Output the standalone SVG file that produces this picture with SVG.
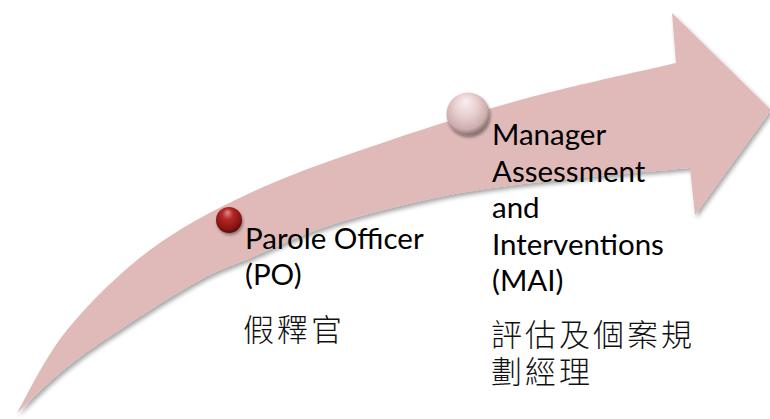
<svg xmlns="http://www.w3.org/2000/svg" width="770" height="419" viewBox="0 0 770 419">
<style>
.lat{font-family:Lato,"Liberation Sans","Noto Sans CJK TC",sans-serif;font-size:29.5px;fill:#000}
.cjk{font-family:"Noto Sans CJK TC","Noto Sans CJK SC",sans-serif;font-size:31px;font-weight:300;fill:#111;letter-spacing:3px}
</style>
<defs>
<filter id="sh" x="-10%" y="-10%" width="130%" height="130%">
<feDropShadow dx="2" dy="3" stdDeviation="2" flood-color="#000" flood-opacity="0.35"/>
</filter>
<filter id="bsh" x="-40%" y="-40%" width="180%" height="180%">
<feDropShadow dx="1" dy="2" stdDeviation="1.5" flood-color="#000" flood-opacity="0.4"/>
</filter>
<radialGradient id="red" cx="0.45" cy="0.4" r="0.6" fx="0.45" fy="0.2">
<stop offset="0" stop-color="#e58a86"/>
<stop offset="0.35" stop-color="#b32a26"/>
<stop offset="0.8" stop-color="#8a1414"/>
<stop offset="1" stop-color="#5e0a0a"/>
</radialGradient>
<radialGradient id="pale" cx="0.45" cy="0.4" r="0.6" fx="0.45" fy="0.2">
<stop offset="0" stop-color="#fbefef"/>
<stop offset="0.45" stop-color="#e8cfcf"/>
<stop offset="0.82" stop-color="#cdadad"/>
<stop offset="1" stop-color="#866c6c"/>
</radialGradient>
</defs>
<g id="connectors">
<path filter="url(#sh)" fill="#dfbab9" d="M17,413 C25.3,399.2 44.8,357.2 67,330 C89.2,302.8 119.5,272.8 150,250 C180.5,227.2 213.3,210.2 250,193 C286.7,175.8 325,162.5 370,147 C415,131.5 469,114 520,100 C571,86 650,69.2 676,63 L672,13 L771,110 L695,215 L690,168 C670,169.8 608.3,174.8 570,179 C531.7,183.2 498.3,185.8 460,193 C421.7,200.2 375,211.2 340,222 C305,232.8 273.3,248.3 250,258 C226.7,267.7 220,269.2 200,280 C180,290.8 152.2,308.5 130,323 C107.8,337.5 85.8,352 67,367 C48.2,382 25.3,405.3 17,413 Z"/>
</g>
<g id="po">
<circle cx="229" cy="220" r="13" fill="url(#red)" filter="url(#bsh)"/>
<text class="lat" x="245" y="249">Parole Officer</text>
<text class="lat" x="245" y="285">(PO)</text>
<text class="cjk" x="243" y="341">假釋官</text>
</g>
<g id="mai">
<circle cx="468" cy="114" r="21.5" fill="url(#pale)" filter="url(#bsh)"/>
<text class="lat" x="492" y="145">Manager</text>
<text class="lat" x="492" y="181.6">Assessment</text>
<text class="lat" x="492" y="218.2">and</text>
<text class="lat" x="492" y="254.8">Interventions</text>
<text class="lat" x="492" y="291.4">(MAI)</text>
<text class="cjk" x="491" y="346">評估及個案規</text>
<text class="cjk" x="491" y="383">劃經理</text>
</g>
</svg>
